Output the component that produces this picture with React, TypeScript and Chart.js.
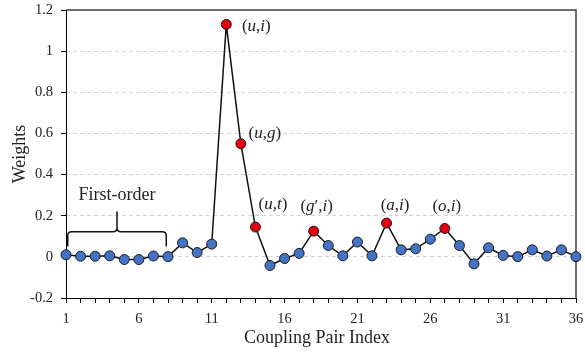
import React, { useEffect, useRef } from "react";
import { Chart, registerables } from "chart.js";

Chart.register(...registerables);

// ---- data ----
const pairIndex = [
  1, 2, 3, 4, 5, 6, 7, 8, 9, 10, 11, 12, 13, 14, 15, 16, 17, 18,
  19, 20, 21, 22, 23, 24, 25, 26, 27, 28, 29, 30, 31, 32, 33, 34, 35, 36,
];
const weights = [
  0.01, 0.003, 0.003, 0.005, -0.013, -0.013, 0.004, 0.001, 0.068, 0.021, 0.062, 1.13,
  0.55, 0.145, -0.042, -0.008, 0.017, 0.125, 0.055, 0.005, 0.072, 0.005, 0.164, 0.034,
  0.039, 0.086, 0.138, 0.055, -0.034, 0.044, 0.007, 0.001, 0.034, 0.004, 0.034, 0.001,
];
const highlighted = [12, 13, 14, 18, 23, 27];
const xTickLabels = [1, 6, 11, 16, 21, 26, 31, 36];
const yMin = -0.2;
const yMax = 1.2;
const yStep = 0.2;

// text parts: [text, italic]
const pointLabels: { index: number; parts: [string, boolean][] }[] = [
  { index: 12, parts: [["(", false], ["u", true], [",", false], ["i", true], [")", false]] },
  { index: 13, parts: [["(", false], ["u", true], [",", false], ["g", true], [")", false]] },
  { index: 14, parts: [["(", false], ["u", true], [",", false], ["t", true], [")", false]] },
  { index: 18, parts: [["(", false], ["g", true], ["′", false], [",", false], ["i", true], [")", false]] },
  { index: 23, parts: [["(", false], ["a", true], [",", false], ["i", true], [")", false]] },
  { index: 27, parts: [["(", false], ["o", true], [",", false], ["i", true], [")", false]] },
];
// label offsets from their point (pixels): [dx, dy]
const labelOffsets: Record<number, [number, number]> = {
  12: [30, 2],
  13: [24, -10],
  14: [17.5, -22],
  18: [3, -25],
  23: [8.5, -17.5],
  27: [2, -22],
};

const groupLabel = "First-order";
const groupRange = [1.12, 7.88];
const xTitle = "Coupling Pair Index";
const yTitle = "Weights";

const SERIF = "'Liberation Serif', 'Times New Roman', serif";
const BLUE = "#4472C4";
const RED = "#E3000F";

function drawRich(ctx: CanvasRenderingContext2D, parts: [string, boolean][], cx: number, cy: number, size: number) {
  const fontFor = (it: boolean) => `${it ? "italic " : ""}${size}px ${SERIF}`;
  let total = 0;
  const widths = parts.map(([t, it]) => {
    ctx.font = fontFor(it);
    const w = ctx.measureText(t).width;
    total += w;
    return w;
  });
  let x = cx - total / 2;
  ctx.textAlign = "left";
  ctx.textBaseline = "middle";
  ctx.fillStyle = "#222";
  parts.forEach(([t, it], i) => {
    ctx.font = fontFor(it);
    ctx.fillText(t, x, cy);
    x += widths[i];
  });
}

const framePlugin = {
  id: "frame",
  beforeDatasetsDraw(chart: any) {
    const { ctx, chartArea } = chart;
    const { left, right, top, bottom } = chartArea;
    ctx.save();
    ctx.lineCap = "butt";
    ctx.strokeStyle = "#404040";
    ctx.lineWidth = 1.5;
    ctx.beginPath();
    ctx.moveTo(left, top);
    ctx.lineTo(right, top);
    ctx.lineTo(right, bottom);
    ctx.stroke();
    ctx.strokeStyle = "#000";
    ctx.lineWidth = 1;
    ctx.beginPath();
    ctx.moveTo(left + 0.5, top);
    ctx.lineTo(left + 0.5, bottom + 0.5);
    ctx.lineTo(right, bottom + 0.5);
    ctx.stroke();
    ctx.restore();
  },
  afterDatasetsDraw(chart: any) {
    const { ctx, chartArea, scales } = chart;
    const xs = scales.x;
    const ys = scales.y;
    ctx.save();
    // point labels
    pointLabels.forEach((l) => {
      const px = xs.getPixelForValue(l.index);
      const py = ys.getPixelForValue(weights[l.index - 1]);
      const [dx, dy] = labelOffsets[l.index];
      drawRich(ctx, l.parts, px + dx, py + dy, 17);
    });
    // brace
    const xL = xs.getPixelForValue(groupRange[0]);
    const xR = xs.getPixelForValue(groupRange[1]);
    const xC = (xL + xR) / 2;
    const yLine = ys.getPixelForValue(0.122);
    const yEnd = ys.getPixelForValue(0.05);
    const yTip = ys.getPixelForValue(0.22);
    const r = 4;
    ctx.strokeStyle = "#111";
    ctx.lineWidth = 1.5;
    ctx.beginPath();
    ctx.moveTo(xL, yEnd);
    ctx.lineTo(xL, yLine + r);
    ctx.quadraticCurveTo(xL, yLine, xL + r, yLine);
    ctx.lineTo(xC - r, yLine);
    ctx.quadraticCurveTo(xC, yLine, xC, yLine - r);
    ctx.lineTo(xC, yTip);
    ctx.moveTo(xR, yEnd);
    ctx.lineTo(xR, yLine + r);
    ctx.quadraticCurveTo(xR, yLine, xR - r, yLine);
    ctx.lineTo(xC + r, yLine);
    ctx.quadraticCurveTo(xC, yLine, xC, yLine - r);
    ctx.stroke();
    ctx.font = `18px ${SERIF}`;
    ctx.fillStyle = "#222";
    ctx.textAlign = "center";
    ctx.textBaseline = "alphabetic";
    ctx.fillText(groupLabel, xC, ys.getPixelForValue(0.274));
    // axis titles
    ctx.font = `18px ${SERIF}`;
    ctx.textAlign = "center";
    ctx.textBaseline = "middle";
    ctx.fillText(xTitle, (chartArea.left + chartArea.right) / 2 - 4, 338);
    ctx.translate(20, (chartArea.top + chartArea.bottom) / 2);
    ctx.rotate(-Math.PI / 2);
    ctx.fillText(yTitle, 0, 0);
    ctx.restore();
  },
};

export default function App() {
  const canvasRef = useRef<HTMLCanvasElement | null>(null);

  useEffect(() => {
    document.body.style.margin = "0";
    const canvas = canvasRef.current;
    if (!canvas) return;
    const chart = new Chart(canvas, {
      type: "line",
      data: {
        datasets: [
          {
            data: pairIndex.map((x, i) => ({ x, y: weights[i] })),
            borderColor: "#111",
            borderWidth: 1.5,
            pointRadius: 5,
            pointHoverRadius: 5,
            pointBorderWidth: 1,
            pointBorderColor: "#1a1a1a",
            pointBackgroundColor: pairIndex.map((x) => (highlighted.includes(x) ? RED : BLUE)),
            tension: 0,
            clip: false,
          } as any,
        ],
      },
      options: {
        animation: false,
        responsive: false,
        devicePixelRatio: 1,
        layout: { padding: { top: 10, right: 9, left: 0, bottom: 0 } },
        plugins: { legend: { display: false }, tooltip: { enabled: false } },
        scales: {
          x: {
            type: "linear",
            min: 1,
            max: 36,
            afterFit: (s: any) => {
              s.height = 54;
              s.paddingLeft = 0;
              s.paddingRight = 0;
            },
            ticks: {
              stepSize: 1,
              autoSkip: false,
              maxRotation: 0,
              padding: 7,
              color: "#222",
              font: { family: SERIF, size: 14.5 },
              callback: (v: any) => (xTickLabels.includes(Number(v)) ? String(v) : ""),
            },
            grid: {
              drawOnChartArea: false,
              drawTicks: true,
              tickLength: 5,
              tickColor: "#000",
              tickWidth: 1,
            },
            border: { display: false },
          },
          y: {
            type: "linear",
            min: yMin,
            max: yMax,
            afterFit: (s: any) => {
              s.width = 66;
              s.paddingTop = 0;
              s.paddingBottom = 0;
            },
            ticks: {
              stepSize: yStep,
              padding: 8,
              color: "#222",
              font: { family: SERIF, size: 14.5 },
              callback: (v: any) => String(Math.round(Number(v) * 10) / 10),
            },
            grid: {
              color: (c: any) => {
                const v = Math.round(c.tick.value * 10) / 10;
                return v === yMin || v === yMax ? "rgba(0,0,0,0)" : "#d4d4d4";
              },
              lineWidth: 1,
              drawTicks: true,
              tickLength: 5,
              tickColor: "#000",
              tickWidth: 1,
            },
            border: { display: false, dash: [4, 3] },
          },
        },
      } as any,
      plugins: [framePlugin],
    });
    return () => chart.destroy();
  }, []);

  return (
    <div style={{ width: 585, height: 352 }}>
      <canvas ref={canvasRef} width={585} height={352} style={{ display: "block" }} />
    </div>
  );
}
